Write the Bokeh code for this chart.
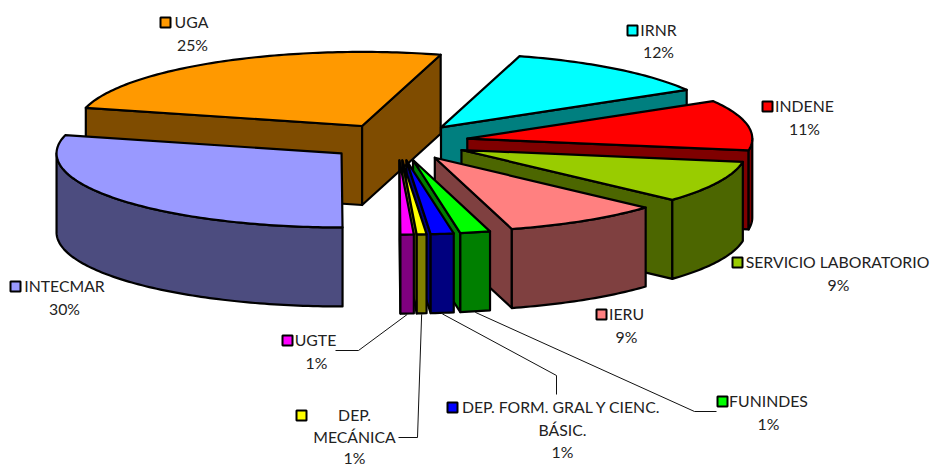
import math
from bokeh.plotting import figure
from bokeh.embed import file_html
from bokeh.resources import INLINE
from bokeh.core.properties import value

# ---- data ----
categories = ["IRNR", "INDENE", "SERVICIO LABORATORIO", "IERU", "FUNINDES",
              "DEP. FORM. GRAL Y CIENC. BÁSIC.", "DEP. MECÁNICA", "UGTE", "INTECMAR", "UGA"]
values = [12.1, 11.0, 9.2, 8.9, 1.7, 1.3, 0.55, 0.75, 29.0, 25.5]
pct_labels = ["12%", "11%", "9%", "9%", "1%", "1%", "1%", "1%", "30%", "25%"]
top_colors = ["#00FFFF", "#FF0000", "#99CC00", "#FF8080", "#00FF00",
              "#0000FF", "#FFFF00", "#FF00FF", "#9999FF", "#FF9900"]
side_colors = ["#007F7F", "#7F0000", "#4C6600", "#7F4040", "#007F00",
               "#00007F", "#7F7F00", "#7F007F", "#4C4C7F", "#7F4C00"]

# ---- projection ----
CX, CY, R, SQ, DEPTH, EXPLODE, START = 397.0, 141.5, 285.0, 0.26, 79.0, 71.0, 16.0
FONT = "Lato"
FS = "15.8px"
LW = 2.2

total = sum(values)
slices = []
a = START
for i, v in enumerate(values):
    sweep = v / total * 360
    slices.append((i, a, a + sweep))
    a += sweep


def pt(deg, r=1.0):
    t = math.radians(deg)
    return r * math.sin(t), -r * SQ * math.cos(t)


def arc(c, a0, a1, dz=0.0):
    n = max(2, int(abs(a1 - a0)) + 2)
    out = []
    for k in range(n):
        d = a0 + (a1 - a0) * k / (n - 1)
        x, y = pt(d, R)
        out.append((c[0] + x, c[1] + y + dz))
    return out


def face_visible(edge, mid):
    dx, dy = pt(edge)
    ix, iy = pt(mid)
    cross = dx * iy - dy * ix
    if abs(dx) < 1e-6:
        return False
    return cross < 0 if dx > 0 else cross > 0


p = figure(width=930, height=466, x_range=(0, 930), y_range=(466, 0),
           output_backend="svg", toolbar_location=None, min_border=0,
           outline_line_color=None)
p.axis.visible = False
p.grid.visible = False
p.xaxis.visible = False
p.yaxis.visible = False


def poly(points, color):
    p.patch([q[0] for q in points], [q[1] for q in points], fill_color=color,
            line_color="black", line_width=LW, line_join="round")


draw_order = [9, 0, 1, 2, 3, 8, 4, 5, 6, 7]
anchors = {}
for i in draw_order:
    _, a0, a1 = slices[i]
    mid = (a0 + a1) / 2
    ex, ey = pt(mid, EXPLODE)
    c = (CX + ex, CY + ey)
    side = side_colors[i]
    # radial faces
    for edge in (a0, a1):
        if face_visible(edge, mid):
            x, y = pt(edge, R)
            poly([c, (c[0] + x, c[1] + y), (c[0] + x, c[1] + y + DEPTH), (c[0], c[1] + DEPTH)], side)
    # outer wall: front half only (90..270 deg)
    for lo, hi in ((90, 270), (450, 630)):
        w0, w1 = max(a0, lo), min(a1, hi)
        if w1 > w0:
            poly(arc(c, w0, w1) + arc(c, w1, w0, DEPTH), side)
    # top
    poly([c] + arc(c, a0, a1), top_colors[i])
    x, y = pt(mid, R)
    anchors[i] = (c[0] + x, c[1] + y + DEPTH)

# ---- label layout: key x, key y, then (centre x, y) for the text lines ----
labels = {
    9: (165, 22, [("UGA", 191, 21)], (192, 44)),
    0: (632, 30, [("IRNR", 658, 29)], (658, 51)),
    1: (767, 106, [("INDENE", 804, 105)], (804, 128)),
    2: (737, 262, [("SERVICIO LABORATORIO", 837, 261)], (838, 284)),
    3: (601, 314, [("IERU", 626, 313)], (626, 336)),
    8: (15, 286, [("INTECMAR", 64, 285)], (64, 308)),
    7: (287, 340, [("UGTE", 315, 339)], (316, 362)),
    6: (301, 415, [("DEP.", 354, 414), ("MECÁNICA", 354, 436)], (354, 457)),
    5: (452, 407, [("DEP. FORM. GRAL Y CIENC.", 561, 406), ("BÁSIC.", 562, 429)], (562, 451)),
    4: (722, 401, [("FUNINDES", 768, 400)], (768, 423)),
}
for i, (kx, ky, lines, pct) in labels.items():
    for t, x, y in lines:
        p.text([x], [y], text=[t], text_font=value(FONT), text_font_size=FS, text_color="#222222",
               text_align="center", text_baseline="middle")
    p.text([pct[0]], [pct[1]], text=[pct_labels[i]], text_font=value(FONT), text_font_size=FS,
           text_color="#222222", text_align="center", text_baseline="middle")
    p.scatter([kx], [ky], marker="square", size=10, fill_color=top_colors[i],
              line_color="black", line_width=2)

# ---- leader lines: slice anchor -> elbow -> label ----
leaders = {
    7: [(358, 350), (335, 350)],
    6: [(417, 437), (398, 437)],
    5: [(556, 375), (556, 394)],
    4: [(694, 411), (716, 411)],
}
for i, pts in leaders.items():
    ax, ay = anchors[i]
    xs = [ax] + [q[0] for q in pts]
    ys = [ay + 1] + [q[1] for q in pts]
    p.line(xs, ys, line_color="#111111", line_width=1)

open("out.html", "w").write(file_html(p, INLINE))
